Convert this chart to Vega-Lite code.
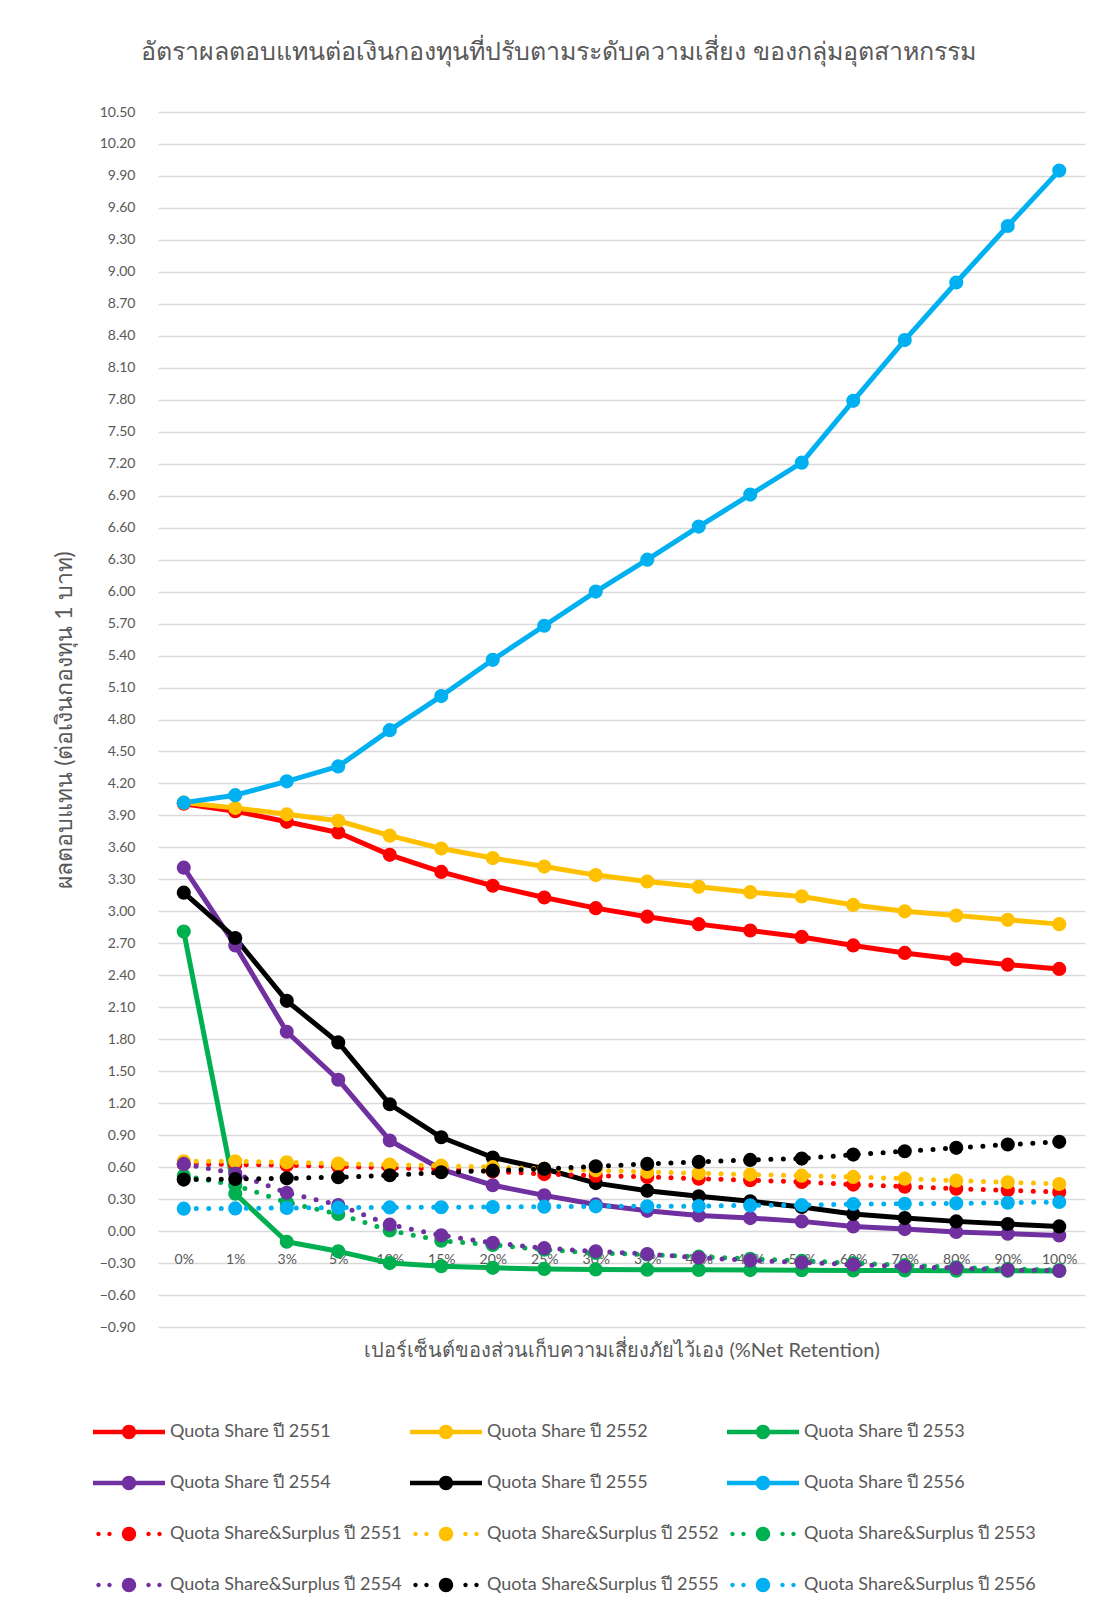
{
  "$schema": "https://vega.github.io/schema/vega-lite/v6.json",
  "autosize": "none",
  "padding": {"left": 158, "top": 112, "right": 23, "bottom": 285},
  "width": 927,
  "height": 1215,
  "background": "white",
  "title": {
    "text": "อัตราผลตอบแทนต่อเงินกองทุนที่ปรับตามระดับความเสี่ยง ของกลุ่มอุตสาหกรรม",
    "fontSize": 25,
    "font": "Lato, sans-serif",
    "fontWeight": "normal",
    "color": "#595959",
    "anchor": "middle",
    "frame": "group",
    "dx": -63,
    "offset": 40
  },
  "config": {
    "view": {"stroke": null},
    "font": "Lato, sans-serif",
    "axis": {
      "labelColor": "#595959",
      "titleColor": "#595959",
      "labelFont": "Lato, sans-serif",
      "titleFont": "Lato, sans-serif",
      "titleFontWeight": "normal"
    }
  },
  "data": {
    "values": [
      {"s": "Quota Share ปี 2551", "r": "0%", "v": 4.01},
      {"s": "Quota Share ปี 2551", "r": "1%", "v": 3.94},
      {"s": "Quota Share ปี 2551", "r": "3%", "v": 3.84},
      {"s": "Quota Share ปี 2551", "r": "5%", "v": 3.74},
      {"s": "Quota Share ปี 2551", "r": "10%", "v": 3.53},
      {"s": "Quota Share ปี 2551", "r": "15%", "v": 3.37},
      {"s": "Quota Share ปี 2551", "r": "20%", "v": 3.24},
      {"s": "Quota Share ปี 2551", "r": "25%", "v": 3.13},
      {"s": "Quota Share ปี 2551", "r": "30%", "v": 3.03},
      {"s": "Quota Share ปี 2551", "r": "35%", "v": 2.95},
      {"s": "Quota Share ปี 2551", "r": "40%", "v": 2.88},
      {"s": "Quota Share ปี 2551", "r": "45%", "v": 2.82},
      {"s": "Quota Share ปี 2551", "r": "50%", "v": 2.76},
      {"s": "Quota Share ปี 2551", "r": "60%", "v": 2.68},
      {"s": "Quota Share ปี 2551", "r": "70%", "v": 2.61},
      {"s": "Quota Share ปี 2551", "r": "80%", "v": 2.55},
      {"s": "Quota Share ปี 2551", "r": "90%", "v": 2.5},
      {"s": "Quota Share ปี 2551", "r": "100%", "v": 2.46},

      {"s": "Quota Share ปี 2552", "r": "0%", "v": 4.02},
      {"s": "Quota Share ปี 2552", "r": "1%", "v": 3.97},
      {"s": "Quota Share ปี 2552", "r": "3%", "v": 3.91},
      {"s": "Quota Share ปี 2552", "r": "5%", "v": 3.85},
      {"s": "Quota Share ปี 2552", "r": "10%", "v": 3.71},
      {"s": "Quota Share ปี 2552", "r": "15%", "v": 3.59},
      {"s": "Quota Share ปี 2552", "r": "20%", "v": 3.5},
      {"s": "Quota Share ปี 2552", "r": "25%", "v": 3.42},
      {"s": "Quota Share ปี 2552", "r": "30%", "v": 3.34},
      {"s": "Quota Share ปี 2552", "r": "35%", "v": 3.28},
      {"s": "Quota Share ปี 2552", "r": "40%", "v": 3.23},
      {"s": "Quota Share ปี 2552", "r": "45%", "v": 3.18},
      {"s": "Quota Share ปี 2552", "r": "50%", "v": 3.14},
      {"s": "Quota Share ปี 2552", "r": "60%", "v": 3.06},
      {"s": "Quota Share ปี 2552", "r": "70%", "v": 3.0},
      {"s": "Quota Share ปี 2552", "r": "80%", "v": 2.96},
      {"s": "Quota Share ปี 2552", "r": "90%", "v": 2.92},
      {"s": "Quota Share ปี 2552", "r": "100%", "v": 2.88},

      {"s": "Quota Share ปี 2553", "r": "0%", "v": 2.81},
      {"s": "Quota Share ปี 2553", "r": "1%", "v": 0.35},
      {"s": "Quota Share ปี 2553", "r": "3%", "v": -0.1},
      {"s": "Quota Share ปี 2553", "r": "5%", "v": -0.19},
      {"s": "Quota Share ปี 2553", "r": "10%", "v": -0.3},
      {"s": "Quota Share ปี 2553", "r": "15%", "v": -0.33},
      {"s": "Quota Share ปี 2553", "r": "20%", "v": -0.345},
      {"s": "Quota Share ปี 2553", "r": "25%", "v": -0.355},
      {"s": "Quota Share ปี 2553", "r": "30%", "v": -0.36},
      {"s": "Quota Share ปี 2553", "r": "35%", "v": -0.362},
      {"s": "Quota Share ปี 2553", "r": "40%", "v": -0.364},
      {"s": "Quota Share ปี 2553", "r": "45%", "v": -0.366},
      {"s": "Quota Share ปี 2553", "r": "50%", "v": -0.367},
      {"s": "Quota Share ปี 2553", "r": "60%", "v": -0.369},
      {"s": "Quota Share ปี 2553", "r": "70%", "v": -0.37},
      {"s": "Quota Share ปี 2553", "r": "80%", "v": -0.372},
      {"s": "Quota Share ปี 2553", "r": "90%", "v": -0.373},
      {"s": "Quota Share ปี 2553", "r": "100%", "v": -0.374},

      {"s": "Quota Share ปี 2554", "r": "0%", "v": 3.41},
      {"s": "Quota Share ปี 2554", "r": "1%", "v": 2.68},
      {"s": "Quota Share ปี 2554", "r": "3%", "v": 1.87},
      {"s": "Quota Share ปี 2554", "r": "5%", "v": 1.42},
      {"s": "Quota Share ปี 2554", "r": "10%", "v": 0.85},
      {"s": "Quota Share ปี 2554", "r": "15%", "v": 0.58},
      {"s": "Quota Share ปี 2554", "r": "20%", "v": 0.43},
      {"s": "Quota Share ปี 2554", "r": "25%", "v": 0.335},
      {"s": "Quota Share ปี 2554", "r": "30%", "v": 0.25},
      {"s": "Quota Share ปี 2554", "r": "35%", "v": 0.19},
      {"s": "Quota Share ปี 2554", "r": "40%", "v": 0.147},
      {"s": "Quota Share ปี 2554", "r": "45%", "v": 0.122},
      {"s": "Quota Share ปี 2554", "r": "50%", "v": 0.091},
      {"s": "Quota Share ปี 2554", "r": "60%", "v": 0.044},
      {"s": "Quota Share ปี 2554", "r": "70%", "v": 0.019},
      {"s": "Quota Share ปี 2554", "r": "80%", "v": -0.009},
      {"s": "Quota Share ปี 2554", "r": "90%", "v": -0.025},
      {"s": "Quota Share ปี 2554", "r": "100%", "v": -0.041},

      {"s": "Quota Share ปี 2555", "r": "0%", "v": 3.175},
      {"s": "Quota Share ปี 2555", "r": "1%", "v": 2.75},
      {"s": "Quota Share ปี 2555", "r": "3%", "v": 2.16},
      {"s": "Quota Share ปี 2555", "r": "5%", "v": 1.77},
      {"s": "Quota Share ปี 2555", "r": "10%", "v": 1.19},
      {"s": "Quota Share ปี 2555", "r": "15%", "v": 0.88},
      {"s": "Quota Share ปี 2555", "r": "20%", "v": 0.69},
      {"s": "Quota Share ปี 2555", "r": "25%", "v": 0.585},
      {"s": "Quota Share ปี 2555", "r": "30%", "v": 0.45},
      {"s": "Quota Share ปี 2555", "r": "35%", "v": 0.379},
      {"s": "Quota Share ปี 2555", "r": "40%", "v": 0.326},
      {"s": "Quota Share ปี 2555", "r": "45%", "v": 0.279},
      {"s": "Quota Share ปี 2555", "r": "50%", "v": 0.226},
      {"s": "Quota Share ปี 2555", "r": "60%", "v": 0.16},
      {"s": "Quota Share ปี 2555", "r": "70%", "v": 0.122},
      {"s": "Quota Share ปี 2555", "r": "80%", "v": 0.091},
      {"s": "Quota Share ปี 2555", "r": "90%", "v": 0.066},
      {"s": "Quota Share ปี 2555", "r": "100%", "v": 0.044},

      {"s": "Quota Share ปี 2556", "r": "0%", "v": 4.02},
      {"s": "Quota Share ปี 2556", "r": "1%", "v": 4.09},
      {"s": "Quota Share ปี 2556", "r": "3%", "v": 4.22},
      {"s": "Quota Share ปี 2556", "r": "5%", "v": 4.36},
      {"s": "Quota Share ปี 2556", "r": "10%", "v": 4.7},
      {"s": "Quota Share ปี 2556", "r": "15%", "v": 5.02},
      {"s": "Quota Share ปี 2556", "r": "20%", "v": 5.36},
      {"s": "Quota Share ปี 2556", "r": "25%", "v": 5.68},
      {"s": "Quota Share ปี 2556", "r": "30%", "v": 6.0},
      {"s": "Quota Share ปี 2556", "r": "35%", "v": 6.3},
      {"s": "Quota Share ปี 2556", "r": "40%", "v": 6.61},
      {"s": "Quota Share ปี 2556", "r": "45%", "v": 6.91},
      {"s": "Quota Share ปี 2556", "r": "50%", "v": 7.21},
      {"s": "Quota Share ปี 2556", "r": "60%", "v": 7.79},
      {"s": "Quota Share ปี 2556", "r": "70%", "v": 8.36},
      {"s": "Quota Share ปี 2556", "r": "80%", "v": 8.9},
      {"s": "Quota Share ปี 2556", "r": "90%", "v": 9.43},
      {"s": "Quota Share ปี 2556", "r": "100%", "v": 9.95},

      {"s": "Quota Share&Surplus ปี 2551", "r": "0%", "v": 0.63},
      {"s": "Quota Share&Surplus ปี 2551", "r": "1%", "v": 0.625},
      {"s": "Quota Share&Surplus ปี 2551", "r": "3%", "v": 0.617},
      {"s": "Quota Share&Surplus ปี 2551", "r": "5%", "v": 0.607},
      {"s": "Quota Share&Surplus ปี 2551", "r": "10%", "v": 0.595},
      {"s": "Quota Share&Surplus ปี 2551", "r": "15%", "v": 0.583},
      {"s": "Quota Share&Surplus ปี 2551", "r": "20%", "v": 0.56},
      {"s": "Quota Share&Surplus ปี 2551", "r": "25%", "v": 0.535},
      {"s": "Quota Share&Surplus ปี 2551", "r": "30%", "v": 0.52},
      {"s": "Quota Share&Surplus ปี 2551", "r": "35%", "v": 0.508},
      {"s": "Quota Share&Surplus ปี 2551", "r": "40%", "v": 0.492},
      {"s": "Quota Share&Surplus ปี 2551", "r": "45%", "v": 0.477},
      {"s": "Quota Share&Surplus ปี 2551", "r": "50%", "v": 0.461},
      {"s": "Quota Share&Surplus ปี 2551", "r": "60%", "v": 0.436},
      {"s": "Quota Share&Surplus ปี 2551", "r": "70%", "v": 0.417},
      {"s": "Quota Share&Surplus ปี 2551", "r": "80%", "v": 0.398},
      {"s": "Quota Share&Surplus ปี 2551", "r": "90%", "v": 0.382},
      {"s": "Quota Share&Surplus ปี 2551", "r": "100%", "v": 0.367},

      {"s": "Quota Share&Surplus ปี 2552", "r": "0%", "v": 0.655},
      {"s": "Quota Share&Surplus ปี 2552", "r": "1%", "v": 0.655},
      {"s": "Quota Share&Surplus ปี 2552", "r": "3%", "v": 0.646},
      {"s": "Quota Share&Surplus ปี 2552", "r": "5%", "v": 0.633},
      {"s": "Quota Share&Surplus ปี 2552", "r": "10%", "v": 0.624},
      {"s": "Quota Share&Surplus ปี 2552", "r": "15%", "v": 0.614},
      {"s": "Quota Share&Surplus ปี 2552", "r": "20%", "v": 0.6},
      {"s": "Quota Share&Surplus ปี 2552", "r": "25%", "v": 0.585},
      {"s": "Quota Share&Surplus ปี 2552", "r": "30%", "v": 0.57},
      {"s": "Quota Share&Surplus ปี 2552", "r": "35%", "v": 0.555},
      {"s": "Quota Share&Surplus ปี 2552", "r": "40%", "v": 0.542},
      {"s": "Quota Share&Surplus ปี 2552", "r": "45%", "v": 0.53},
      {"s": "Quota Share&Surplus ปี 2552", "r": "50%", "v": 0.52},
      {"s": "Quota Share&Surplus ปี 2552", "r": "60%", "v": 0.508},
      {"s": "Quota Share&Surplus ปี 2552", "r": "70%", "v": 0.492},
      {"s": "Quota Share&Surplus ปี 2552", "r": "80%", "v": 0.473},
      {"s": "Quota Share&Surplus ปี 2552", "r": "90%", "v": 0.458},
      {"s": "Quota Share&Surplus ปี 2552", "r": "100%", "v": 0.442},

      {"s": "Quota Share&Surplus ปี 2553", "r": "0%", "v": 0.52},
      {"s": "Quota Share&Surplus ปี 2553", "r": "1%", "v": 0.43},
      {"s": "Quota Share&Surplus ปี 2553", "r": "3%", "v": 0.27},
      {"s": "Quota Share&Surplus ปี 2553", "r": "5%", "v": 0.16},
      {"s": "Quota Share&Surplus ปี 2553", "r": "10%", "v": 0.005},
      {"s": "Quota Share&Surplus ปี 2553", "r": "15%", "v": -0.09},
      {"s": "Quota Share&Surplus ปี 2553", "r": "20%", "v": -0.13},
      {"s": "Quota Share&Surplus ปี 2553", "r": "25%", "v": -0.175},
      {"s": "Quota Share&Surplus ปี 2553", "r": "30%", "v": -0.205},
      {"s": "Quota Share&Surplus ปี 2553", "r": "35%", "v": -0.22},
      {"s": "Quota Share&Surplus ปี 2553", "r": "40%", "v": -0.24},
      {"s": "Quota Share&Surplus ปี 2553", "r": "45%", "v": -0.26},
      {"s": "Quota Share&Surplus ปี 2553", "r": "50%", "v": -0.28},
      {"s": "Quota Share&Surplus ปี 2553", "r": "60%", "v": -0.3},
      {"s": "Quota Share&Surplus ปี 2553", "r": "70%", "v": -0.32},
      {"s": "Quota Share&Surplus ปี 2553", "r": "80%", "v": -0.34},
      {"s": "Quota Share&Surplus ปี 2553", "r": "90%", "v": -0.355},
      {"s": "Quota Share&Surplus ปี 2553", "r": "100%", "v": -0.365},

      {"s": "Quota Share&Surplus ปี 2554", "r": "0%", "v": 0.63},
      {"s": "Quota Share&Surplus ปี 2554", "r": "1%", "v": 0.54},
      {"s": "Quota Share&Surplus ปี 2554", "r": "3%", "v": 0.36},
      {"s": "Quota Share&Surplus ปี 2554", "r": "5%", "v": 0.245},
      {"s": "Quota Share&Surplus ปี 2554", "r": "10%", "v": 0.06},
      {"s": "Quota Share&Surplus ปี 2554", "r": "15%", "v": -0.04},
      {"s": "Quota Share&Surplus ปี 2554", "r": "20%", "v": -0.11},
      {"s": "Quota Share&Surplus ปี 2554", "r": "25%", "v": -0.16},
      {"s": "Quota Share&Surplus ปี 2554", "r": "30%", "v": -0.19},
      {"s": "Quota Share&Surplus ปี 2554", "r": "35%", "v": -0.215},
      {"s": "Quota Share&Surplus ปี 2554", "r": "40%", "v": -0.25},
      {"s": "Quota Share&Surplus ปี 2554", "r": "45%", "v": -0.275},
      {"s": "Quota Share&Surplus ปี 2554", "r": "50%", "v": -0.295},
      {"s": "Quota Share&Surplus ปี 2554", "r": "60%", "v": -0.315},
      {"s": "Quota Share&Surplus ปี 2554", "r": "70%", "v": -0.332},
      {"s": "Quota Share&Surplus ปี 2554", "r": "80%", "v": -0.348},
      {"s": "Quota Share&Surplus ปี 2554", "r": "90%", "v": -0.364},
      {"s": "Quota Share&Surplus ปี 2554", "r": "100%", "v": -0.373},

      {"s": "Quota Share&Surplus ปี 2555", "r": "0%", "v": 0.483},
      {"s": "Quota Share&Surplus ปี 2555", "r": "1%", "v": 0.489},
      {"s": "Quota Share&Surplus ปี 2555", "r": "3%", "v": 0.495},
      {"s": "Quota Share&Surplus ปี 2555", "r": "5%", "v": 0.505},
      {"s": "Quota Share&Surplus ปี 2555", "r": "10%", "v": 0.524},
      {"s": "Quota Share&Surplus ปี 2555", "r": "15%", "v": 0.552},
      {"s": "Quota Share&Surplus ปี 2555", "r": "20%", "v": 0.567},
      {"s": "Quota Share&Surplus ปี 2555", "r": "25%", "v": 0.583},
      {"s": "Quota Share&Surplus ปี 2555", "r": "30%", "v": 0.608},
      {"s": "Quota Share&Surplus ปี 2555", "r": "35%", "v": 0.63},
      {"s": "Quota Share&Surplus ปี 2555", "r": "40%", "v": 0.649},
      {"s": "Quota Share&Surplus ปี 2555", "r": "45%", "v": 0.668},
      {"s": "Quota Share&Surplus ปี 2555", "r": "50%", "v": 0.68},
      {"s": "Quota Share&Surplus ปี 2555", "r": "60%", "v": 0.718},
      {"s": "Quota Share&Surplus ปี 2555", "r": "70%", "v": 0.749},
      {"s": "Quota Share&Surplus ปี 2555", "r": "80%", "v": 0.781},
      {"s": "Quota Share&Surplus ปี 2555", "r": "90%", "v": 0.812},
      {"s": "Quota Share&Surplus ปี 2555", "r": "100%", "v": 0.837},

      {"s": "Quota Share&Surplus ปี 2556", "r": "0%", "v": 0.21},
      {"s": "Quota Share&Surplus ปี 2556", "r": "1%", "v": 0.213},
      {"s": "Quota Share&Surplus ปี 2556", "r": "3%", "v": 0.217},
      {"s": "Quota Share&Surplus ปี 2556", "r": "5%", "v": 0.22},
      {"s": "Quota Share&Surplus ปี 2556", "r": "10%", "v": 0.222},
      {"s": "Quota Share&Surplus ปี 2556", "r": "15%", "v": 0.224},
      {"s": "Quota Share&Surplus ปี 2556", "r": "20%", "v": 0.226},
      {"s": "Quota Share&Surplus ปี 2556", "r": "25%", "v": 0.229},
      {"s": "Quota Share&Surplus ปี 2556", "r": "30%", "v": 0.232},
      {"s": "Quota Share&Surplus ปี 2556", "r": "35%", "v": 0.232},
      {"s": "Quota Share&Surplus ปี 2556", "r": "40%", "v": 0.235},
      {"s": "Quota Share&Surplus ปี 2556", "r": "45%", "v": 0.241},
      {"s": "Quota Share&Surplus ปี 2556", "r": "50%", "v": 0.243},
      {"s": "Quota Share&Surplus ปี 2556", "r": "60%", "v": 0.254},
      {"s": "Quota Share&Surplus ปี 2556", "r": "70%", "v": 0.256},
      {"s": "Quota Share&Surplus ปี 2556", "r": "80%", "v": 0.26},
      {"s": "Quota Share&Surplus ปี 2556", "r": "90%", "v": 0.266},
      {"s": "Quota Share&Surplus ปี 2556", "r": "100%", "v": 0.273}
    ]
  },
  "encoding": {
    "x": {
      "field": "r",
      "type": "ordinal",
      "sort": ["0%", "1%", "3%", "5%", "10%", "15%", "20%", "25%", "30%", "35%", "40%", "45%", "50%", "60%", "70%", "80%", "90%", "100%"],
      "scale": {"type": "point", "padding": 0.5},
      "axis": {
        "title": "เปอร์เซ็นต์ของส่วนเก็บความเสี่ยงภัยไว้เอง (%Net Retention)",
        "titleFontSize": 20,
        "titlePadding": 74,
        "labelFontSize": 14,
        "labelAngle": 0,
        "labelPadding": 22,
        "offset": -97,
        "domain": false,
        "ticks": false,
        "grid": false
      }
    },
    "y": {
      "field": "v",
      "type": "quantitative",
      "scale": {"domain": [-0.9, 10.5], "nice": false, "zero": false},
      "axis": {
        "title": "ผลตอบแทน (ต่อเงินกองทุน 1 บาท)",
        "titleFontSize": 23,
        "titlePadding": 23,
        "labelFontSize": 14,
        "labelPadding": 23,
        "format": ".2f",
        "values": [-0.9, -0.6, -0.3, 0, 0.3, 0.6, 0.9, 1.2, 1.5, 1.8, 2.1, 2.4, 2.7, 3.0, 3.3, 3.6, 3.9, 4.2, 4.5, 4.8, 5.1, 5.4, 5.7, 6.0, 6.3, 6.6, 6.9, 7.2, 7.5, 7.8, 8.1, 8.4, 8.7, 9.0, 9.3, 9.6, 9.9, 10.2, 10.5],
        "domain": false,
        "ticks": false,
        "grid": true,
        "gridColor": "#d9d9d9",
        "gridWidth": 1.5
      }
    },
    "color": {
      "field": "s",
      "type": "nominal",
      "scale": {
        "domain": ["Quota Share ปี 2551", "Quota Share ปี 2552", "Quota Share ปี 2553", "Quota Share ปี 2554", "Quota Share ปี 2555", "Quota Share ปี 2556", "Quota Share&Surplus ปี 2551", "Quota Share&Surplus ปี 2552", "Quota Share&Surplus ปี 2553", "Quota Share&Surplus ปี 2554", "Quota Share&Surplus ปี 2555", "Quota Share&Surplus ปี 2556"],
        "range": ["#ff0000", "#ffc000", "#00b050", "#7030a0", "#000000", "#00b0f0", "#ff0000", "#ffc000", "#00b050", "#7030a0", "#000000", "#00b0f0"]
      },
      "legend": {
        "title": null,
        "orient": "none",
        "legendX": -65,
        "legendY": 1284,
        "direction": "horizontal",
        "columns": 3,
        "gridAlign": "all",
        "columnPadding": 8,
        "rowPadding": 6,
        "symbolSize": 5184,
        "symbolStrokeWidth": 0,
        "labelOffset": 5,
        "labelFontSize": 18,
        "labelColor": "#595959",
        "labelFont": "Lato, sans-serif",
        "labelLimit": 0,
        "encode": {
          "symbols": {
            "update": {
              "shape": {"signal": "indexof(datum.value, 'Surplus') >= 0 ? 'M-0.908,0A0.061,0.061 0 1 1 -0.786,0A0.061,0.061 0 1 1 -0.908,0ZM-0.603,0A0.061,0.061 0 1 1 -0.481,0A0.061,0.061 0 1 1 -0.603,0ZM0.481,0A0.061,0.061 0 1 1 0.603,0A0.061,0.061 0 1 1 0.481,0ZM0.786,0A0.061,0.061 0 1 1 0.908,0A0.061,0.061 0 1 1 0.786,0ZM-0.2,0A0.2,0.2 0 1 1 0.2,0A0.2,0.2 0 1 1 -0.2,0Z' : 'M-1,-0.062L1,-0.062L1,0.062L-1,0.062ZM-0.2,0A0.2,0.2 0 1 1 0.2,0A0.2,0.2 0 1 1 -0.2,0Z'"},
              "fill": {"scale": "color", "field": "value"},
              "stroke": {"value": "transparent"},
              "strokeWidth": {"value": 0},
              "opacity": {"value": 1}
            }
          }
        }
      }
    }
  },
  "layer": [
    {
      "transform": [{"filter": "indexof(datum.s, 'Surplus') < 0"}],
      "mark": {"type": "line", "strokeWidth": 5, "strokeJoin": "round"}
    },
    {
      "transform": [{"filter": "indexof(datum.s, 'Surplus') < 0"}],
      "mark": {"type": "point", "filled": true, "opacity": 1, "size": 200}
    },
    {
      "transform": [{"filter": "indexof(datum.s, 'Surplus') >= 0"}],
      "mark": {"type": "line", "strokeWidth": 5, "strokeDash": [0, 12.5], "strokeCap": "round"}
    },
    {
      "transform": [{"filter": "indexof(datum.s, 'Surplus') >= 0"}],
      "mark": {"type": "point", "filled": true, "opacity": 1, "size": 200}
    }
  ]
}
